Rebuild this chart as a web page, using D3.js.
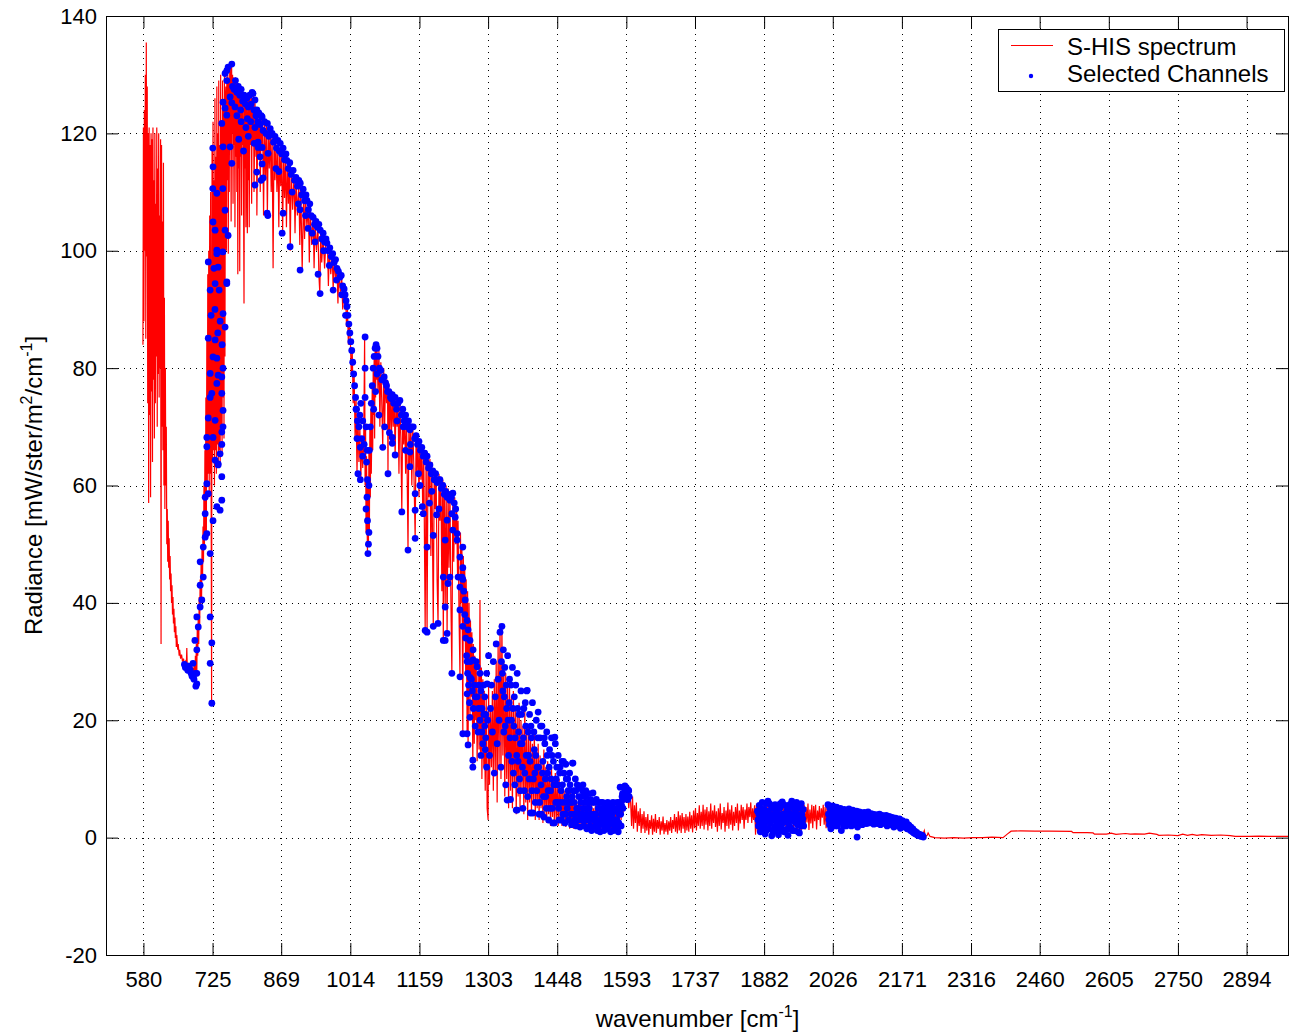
<!DOCTYPE html>
<html lang="en">
<head>
<meta charset="UTF-8">
<title>S-HIS spectrum</title>
<script src="https://d3js.org/d3.v7.min.js"></script>
<style>
  body { margin: 0; background: #fff; }
  svg { display: block; font-family: "Liberation Sans", Arial, Helvetica, sans-serif; }
</style>
</head>
<body>
<div id="chart"></div>
<script>
// tick labels as printed on the axes
var xTicks = [580, 725, 869, 1014, 1159, 1303, 1448, 1593, 1737, 1882, 2026, 2171, 2316, 2460, 2605, 2750, 2894];
var yTicks = [-20, 0, 20, 40, 60, 80, 100, 120, 140];

// S-HIS spectrum, [wavenumber cm-1, radiance]
var spectrumLongwave = [
  [579,84],[580,121],[581,88],[582,124],[583,100],[584,130],[585,85],[586,135.5],[587,99],[588,128],[589,74],[590,120],[591,57],[592,121],[593,72],[594,118],[595,58],[596,120],[597,76],[598,119],[599,64],[600,121],[601,78],[602,112],[603,68],[604,120],[605,74],[606,108],[607,82],[608,121],[609,70],[610,114],[611,79],[612,120],[613,75],[614,106],[615,80],[616,119],[617,33],[618,118],[619,70],[620,105],[621,66],[622,115],[623,60],[624,92],[625,56],[626,80],[627,60],[628,70],[629,50],
  [630,56],[631,47],[632,54],[633,46],[634,51],[635,44],[636,48],[637,42],[638,45],[639,40],[640,43],[641,38],[642,41],[643,36.5],[644,39],[645,35],[646,37.5],[647,34],[648,36],[649,32.5],[650,34.5],[652,32],[653,33],[655,31],[656,32],[658,30.5],[660,31.2],[662,30],[664,30.5],[666,29.6],[668,30],[670,29.2],[671,32.3],[672,29],[674,29.5],[676,28.8],[678,29.2],[680,28.6],[682,29],[684,28],
  [685,29],[686,27.5],[687,30],[688,26.5],[689,31],[690,27],[691,33],[692,28],[693,36],[694,31],[695,38],[696,33],[697,41],[698,36],[699,44],[700,39],[701,47],[702,41],[703,50],[704,44],[705,53],[706,47],[707,60],[708,50],[709,66],[710,52],[711,75],[712,51],[713,85],[714,60],[715,96],[716,62],[717,100],[718,58],[719,106],[720,62],[721,110],[722,60],[723,23],[724,118],[725,64],[726,122],[727,66],[728,112],[729,60],[730,126],[731,66],[732,116],[733,62],[734,128],[735,67],[736,120],[737,63],[738,129],[739,66],[740,118],[741,64],[742,130],[743,70],[744,122],[745,65],[746,129],[747,75],[748,124],[749,68],[750,130],[751,82],[752,126],
  [753,128],[754,100],[755,129.5],[756,112],[757,130],[758,99.5],[759,129],[760,110],[761,130.5],[762,118],[763,131],[764,105],[765,131.5],[766,120],[767,130],[768,108],[769,129.5],[770,118],[771,129],[772,104],[773,129.5],[774,116],[775,128.5],[776,110],[777,129],[778,96],[779,128.5],[780,114],[781,128],[782,96.5],[783,127.5],[784,116],[785,128],[786,106],[787,127.5],[788,118],[789,127],[790,110],[791,91],[792,126.5],[793,114],[794,127],[795,104],[796,126.5],[797,118],[798,103],[799,126],[800,112],[801,126.5],[802,104],[803,126],[804,118],[806,126.5],[807,108],[808,126],[810,118],[811,126.8],[812,110],[814,125.5],[816,116],[817,124.5],[818,106],[820,124],[822,116],[824,123.5],[825,110],[827,123],[829,117],[830,122.5],[832,106],[834,122],[836,112],[838,121.5],[840,106],[842,121],[844,114],[846,120.5],[848,110],[850,120],[852,97],[854,119.5],[856,112],[858,118.5],[860,110],[862,118],[864,104],[866,117.5],[868,111],[870,117],[872,103],[874,116.5],[876,109],[878,116],[880,104],[882,115.5],[884,108],[886,114.5],[888,100],[890,114],[893,107],[896,113],[898,103],[900,112.5],[903,106],[906,111.5],[908,101],[910,111],[913,96.7],[916,109.5],[918,102],[920,109],[923,104],[926,108],[928,98],[930,107],[933,101],[936,106],[938,97],[940,105],[943,100],[946,104.5],[948,96],[950,92.7],[952,103.5],[954,98],[957,102.5],[960,97],[963,102],[966,101],[968,94],[970,100],[973,96],[976,99.5],[978,93.3],[980,98.5],[983,95],[986,97.5],[988,91],[990,96.5],[993,93],[996,95.5],[998,90],[1000,94.5],[1002,90],[1004,93],[1006,87],[1008,90],[1010,84],[1012,87.5]
];
var spectrumOzone = [
  [1014,85],[1016,79],[1018,83],[1020,74],[1022,79],[1024,68],[1026,75],[1028,62],[1030,72],[1032,64],[1034,70],[1036,61],[1038,68],[1040,63],[1042,67],[1044,85.3],[1045,60],[1046,70],[1047,52],[1048,65],[1049,55],[1050,48.4],[1051,60],[1052,50],[1053,66],[1054,52],[1055,70],[1056,58],[1057,73],[1058,62],[1060,77],[1061,66],[1062,80],[1063,72],[1064,82],[1065,68],[1066,83.4],[1067,75],[1068,84],[1069,78],[1070,83.5],[1072,76],[1074,83],[1076,70],[1078,81],[1080,74],[1082,66.5],[1084,80],[1086,70],[1088,79],[1090,74],[1092,78],[1093,62],[1094,77.5],[1096,69],[1098,76.5],[1100,67]
];
var spectrumMidwave = [
  [1102,76],[1104,70],[1106,75.5],[1108,65],[1110,75],[1112,70],[1114,74.5],[1116,62],[1118,74.5],[1120,68],[1122,55.5],[1124,73],[1126,67],[1128,72.5],[1130,62],[1132,71.5],[1135,49],[1137,71],[1139,63],[1141,70.5],[1143,60],[1145,70],[1147,64],[1150,51],[1152,69],[1154,62],[1156,68],[1158,58],[1160,67.5],[1162,61],[1164,67],[1166,55],[1168,66.5],[1171,35.3],[1173,66],[1175,35],[1177,65],[1179,58],[1181,64.5],[1183,48],[1185,64],[1188,36],[1190,63],[1192,56],[1194,62.5],[1196,44],[1198,36.5],[1200,62],[1202,54],[1204,61.5],[1206,42],[1208,61],[1209,33.6],[1211,60.5],[1213,39.3],[1215,60],[1217,34.8],[1219,59.5],[1221,46],[1223,59],[1225,40],[1227,28],[1229,59],[1231,47],[1233,58],[1235,50],[1237,56],[1239,44],[1240,54],[1242,38],[1244,27.4],[1245,52],[1247,40],[1248,50],[1250,17.7],[1251,48],[1253,34],[1254,46],[1256,28],[1257,44],[1259,17.7],[1260,42],[1261,15.8],[1263,40],[1265,20.5],[1266,37],[1268,24],[1269,35],[1271,12],[1272,33],[1274,16],[1275,31],[1277,20],[1278,30],[1280,13],[1282,28],[1284,15],[1286,40.5],[1287,14],[1289,29],[1290,10],[1292,27],[1294,12],[1295,25],[1297,8],[1299,24],[1301,5],[1303,3],[1304,26],[1306,9],[1308,22],[1310,12],[1312,25],[1314,8],[1316,27],[1318,11],[1320,30],[1322,6],[1324,33],[1326,12],[1328,36.5],[1330,10],[1332,36],[1334,14],[1336,30],[1338,7],[1340,28],[1342,10],[1344,27],[1346,5],[1348,26],[1350,8],
  [1352,24],[1354,5],[1356,25],[1358,9],[1360,22],[1362,4],[1364,21],[1366,7],[1368,23],[1370,5],[1372,20],[1374,8],[1376,19],[1378,4],[1380,22],[1382,6],[1384,18],[1386,3],[1388,19],[1390,6],[1392,17],[1394,4],[1396,16],[1398,6],[1400,18],[1402,3],[1404,15],[1406,5],[1408,16],[1410,3],[1412,14],[1414,5],[1416,13],[1418,2.5],[1420,15],[1422,4],[1424,12],[1426,2.5],[1428,13],[1430,4],[1432,11],[1434,2],[1436,12],[1438,3.5],[1440,10],[1442,2],[1444,11],[1446,3],[1448,9],[1450,2],[1452,10],[1454,3],[1456,8.5],[1458,2],[1460,9],[1462,2.5],[1464,8],[1466,1.8],[1468,8.5],[1470,2.5],[1472,7.5],[1474,1.5],[1476,8],[1478,2],[1480,7],[1482,1.5],[1484,7.5],[1486,2],[1488,6.5],[1490,1.5],[1492,6],[1494,2],[1496,7],[1498,1.5],[1500,6],[1502,2],[1504,6.5],[1506,1.2],[1508,5.5],[1510,2],[1512,6],[1514,1.2],[1516,5.5],[1518,1.8],[1520,6.5],[1522,1.2],[1524,5],[1526,2],[1528,5.5],[1530,1],[1532,5],[1534,1.8],[1536,6],[1538,1],[1540,5],[1542,1.5],[1544,5.5],[1546,1],[1548,4.5],[1550,1.8],[1552,5],[1554,1.2],[1556,5.5],[1558,1.5],[1560,4.5],[1562,1.2],[1564,5],[1566,1.8],[1568,5.5],[1570,1.5],[1572,6],[1574,1.8],[1576,6.5],[1578,2],[1580,7.5],[1582,3],[1584,8],[1586,4],[1588,8.5],[1590,6],[1592,8.7],[1594,6.5],[1596,8.2],[1598,5],[1600,7.5]
];
var spectrumWater = [
  [1602,6],[1604,2],[1606,7],[1608,1.5],[1610,5.5],[1612,2.5],[1614,6],[1616,1],[1618,4.5],[1620,2],[1622,5],[1624,0.8],[1626,4],[1628,1.5],[1630,4.5],[1632,0.8],[1634,3.5],[1636,1.2],[1638,4],[1640,0.5],[1642,3],[1644,1.5],[1646,3.8],[1648,0.5],[1650,3.2],[1652,1],[1654,4],[1656,0.8],[1658,3],[1660,1.5],[1662,3.5],[1664,0.5],[1666,2.8],[1668,1.2],[1670,3.6],[1672,0.6],[1674,2.5],[1676,1],[1678,3],[1680,0.5],[1682,2.8],[1684,1.2],[1686,3.5],[1688,0.8],[1690,3],[1692,1.5],[1694,4],[1696,1],[1698,3.5],[1700,0.7],[1702,4.5],[1704,1.2],[1706,3.8],[1708,0.8],[1710,4.2],[1712,1.5],[1714,3.5],[1716,0.8],[1718,4],[1720,1.2],[1722,3.6],[1724,1],[1726,4.4],[1728,1.5],[1730,3.8],[1732,0.9],[1734,4.6],[1736,1.6],[1738,5],[1740,1.2],[1742,4.2],[1744,2],[1746,5.5],[1748,1.5],[1750,4.4],[1752,2],[1754,5.6],[1756,1.4],[1758,4.8],[1760,2.2],[1762,5.2],[1764,1.2],[1766,4.5],[1768,2],[1770,5.8],[1772,1.5],[1774,4.6],[1776,2.5],[1778,5.5],[1780,1.8],[1782,4.5],[1784,1],[1786,5],[1788,2],[1790,5.8],[1792,1.4],[1794,4.2],[1796,2.5],[1798,5.2],[1800,1],[1802,4.6],[1804,2],[1806,6],[1808,1.5],[1810,4.8],[1812,2.2],[1814,5.5],[1816,1.2],[1818,4.4],[1820,2],[1822,5.2],[1824,2.5],[1826,5.8],[1828,1.2],[1830,4.6],[1832,2.4],[1834,5.6],[1836,3],[1838,5.2],[1840,1.5],[1842,4.8],[1844,3],[1846,5.8],[1848,2.5],[1850,5.2],[1852,3.5],[1854,6],[1856,2.5],[1858,5],[1860,3],[1862,5.5],[1864,0.5],[1866,5.8],
  [1868,1],[1870,5],[1872,1.5],[1874,5.8],[1876,2],[1878,5],[1880,1],[1882,6],[1884,2.5],[1886,5.5],[1888,0.8],[1890,6.2],[1892,2],[1894,5],[1896,1.2],[1898,5.8],[1900,2.6],[1902,5.2],[1904,0.8],[1906,6],[1908,2.2],[1910,5.4],[1912,1],[1914,5.8],[1916,2.4],[1918,6],[1920,1.4],[1922,5.2],[1924,2],[1926,5.6],[1928,0.6],[1930,5],[1932,2.2],[1934,6],[1936,1.6],[1938,5.4],[1940,2.4],[1942,6.2],[1944,1],[1946,5],[1948,2],[1950,5.8],[1952,1.4],[1954,5.2],[1956,2.6],[1958,6],[1960,1.2],[1962,5.4],[1964,2],[1966,5.6],[1968,1.4],[1970,5.2],[1972,2.6],[1974,5.8],[1976,1.3],[1978,4.8],[1980,2.4],[1982,5.6],[1984,1.6],[1986,5.4],[1988,2.8],[1990,5.6],[1992,1.4],[1994,4.6],[1996,3],[1998,5.4],[2000,2],[2002,5],[2004,3.4],[2006,5.6],[2008,2.2],[2010,5.2],[2012,1.6],[2014,5.4],[2016,3],
  [2018,5],[2022,2],[2026,5.2],[2030,2.6],[2034,5],[2038,2.2],[2042,4.8],[2046,2.4],[2050,4.6],[2054,2.6],[2058,4.5],[2062,2.6],[2066,4.4],[2070,2.8],[2074,4.3],[2078,2.6],[2082,4.2],[2086,2.8],[2090,4],[2094,2.8],[2098,4],[2102,2.8],[2106,3.9],[2110,2.8],[2114,3.8],[2118,2.7],[2122,3.7],[2126,2.6],[2130,3.6],[2134,2.6],[2138,3.5],[2142,2.4],[2146,3.4],[2150,2.4],[2154,3.2],[2158,2.2],[2162,3],[2166,2],[2170,2.8],[2174,1.8],[2178,2.5],[2182,1.5],[2186,2],[2190,1.2],[2194,1.4],[2198,0.8],[2202,0.9],[2206,0.5],[2210,0.6],[2214,0.3],[2218,1.2],[2220,0.2],[2224,0.4]
];
var spectrumShortwave = [
  [2226,0.8],[2230,0.2],[2240,0],[2260,-0.1],[2280,0],[2300,-0.1],[2320,0],[2340,0],[2360,0.1],[2383,0],[2392,0.6],[2400,1.1],[2420,1.15],[2450,1.1],[2480,1.1],[2527,1.05],[2530,0.85],[2560,0.85],[2572,0.8],[2575,0.6],[2600,0.6],[2610,0.75],[2620,0.55],[2640,0.7],[2650,0.6],[2660,0.65],[2680,0.6],[2690,0.75],[2706,0.55],[2710,0.4],[2730,0.45],[2750,0.35],[2760,0.6],[2770,0.4],[2780,0.55],[2790,0.4],[2800,0.5],[2820,0.4],[2840,0.45],[2860,0.35],[2870,0.2],[2900,0.2],[2920,0.25],[2940,0.2],[2960,0.22],[2985,0.2]
];

// selected channels, [wavenumber cm-1, radiance]
var channelsLongwave = [
  [666,29.5],[668,29],[671,29.1],[673,28.5],[675,29.2],[678,28.6],[680,28],[682,27.5],[684,29.7],[686,27],[688,33.6],[689,28],[690,25.8],[692,32],[692,28],[692,26.2],[692,37.6],[695,35.9],[699,39.3],[702.5,40.5],[699,43],[705.5,44.4],[699,47],[705.5,49.5],[709.5,51.2],[713,51.8],[709.5,55.2],[709.5,58],[713,60.3],[716,58.6],[713,66.6],[713,68.2],[720,48.4],[726,54],[720,37.6],[723.5,33.2],[720,29.7],[723.5,22.9],[734,56.4],[740.8,55.8],[744.4,57.5],[736.7,63.5],[744.4,61.5],[740.8,65.4],[744.4,67],[747,70],[747,72.8],[744.4,75.7],[744.4,78.5],[747,80],[751.3,87],[754.9,94.7],[747,89.3],[734,81.7],[726,81.9],[730.4,84.8],[736.7,78.8],[720,79.1],[716,85.1],[723.5,75.7],[720,75],[734,77.4],[730.4,71.1],[716,71.5],[726,68.2],[744.4,69.1],[730.4,64.3],[736.7,63.7],[725.5,117.5],[726,114.3],[725.5,110.6],[726,104.9],[730.4,103.5],[734,109.8],[734,100.1],[744.4,121.7],[747,125.3],[751.3,130.2],[754.9,130.7],[757.6,131.3],[765.4,131.8],[754.9,129],[761.8,126.2],[765.4,125.2],[751.3,124.3],[754.9,123.1],[747,117.7],[746.5,110.6],[751.3,106.9],[751.3,103.5],[757.6,102.6],[761.8,117.7],[765.4,114.9],[746.5,99.8],[734,99.5],[736.7,97.2],[730.4,94.4],[716,98.1],[720,93.3],[738.8,93.3],[754.9,94.4],[730,90],[741,88],[736,86],[722,89],[745,84],[728,97]
];
var channelsWindow = [
  [767,128],[770,127.5],[773,129],[776,127],[779,128],[782,126.5],[785,127.5],[788,125.5],[791,126.5],[794,125],[797,126],[800,124.5],[803,126.5],[806,125],[808,127],[810,126.8],[812,124],[814,125.7],[816,123],[818,124],[820,122],[822,123.5],[825,121.5],[827,123],[829,122.8],[831,120.5],[834,122],[837,120],[840,121.7],[843,119.5],[846,120.8],[850,120],[853,118.5],[856,119.5],[859,117.5],[862,118.8],[865,117],[867,118.3],[870,116.5],[873,117.5],[876,115.5],[879,116.5],[881,115.4],[884,114],[887,115],[890,113],[894,113.7],[897,112],[900,112.5],[903,111],[906,112],[909,111.5],[912,109.5],[915,110.5],[918,108.5],[921,109.5],[923,108.6],[926,107],[929,108],[932,106],[936,105.7],[939,104.5],[942,105],[945,104],[948,104.5],[951,103.5],[954,102],[957,103],[960,101.5],[963,102],[965,101.3],[968,100],[971,100.5],[974,99],[977,99.5],[980,98],[983,98.5],[986,97],[989,96.5],[992,95.5],[995,95.8],[998,94],[1001,93.5],[1003,92.5],[1005,91.5],[1007,90.5],[1009,89],[1011,87.5],[1013,86],[1015,84.5],[1017,83],[1019,81],[1021,79],[1023,77],[1025,75],[1027,73],[1029,71],
  [814,121],[820.5,118.5],[829,117.6],[829,114.8],[831,112.4],[814,111.2],[841.5,116.6],[839.5,106.4],[873,106.4],[871,103],[887.7,100.7],[908.6,107],[925.4,103.8],[908.6,96.7],[946.4,96],[950.6,92.7],[978,93.3],[817.8,113.4],[826.8,112],[812.2,118.3],[820.6,117.6],[824.7,116],[840.9,106],[780,119],[785,122],[790,117],[795,121],[800,119.5],[805,122],[776,123],[772,124.5],[784,124],[798,122.5],[858,114],[864,113.5],[892,110],[905,108],[920,106],[934,103],[940,101.5],[958,100],[970,97.5],[985,95],[996,92.5],[1004,89]
];
var channelsOzone = [
  [1032,70],[1034,72],[1036,74],[1030,62],[1035,66.5],[1035,61],[1038,68],[1040,65],[1040,71],[1043,67],[1026,73],[1028,68],[1045,85.3],[1045,80],[1045,75],[1047,70],[1048,64],[1049,58],[1050,54],[1051,48.4],[1052,50],[1053,52],[1050,61],[1047,56],[1049,66],[1053,60],[1054,66],[1056,70],[1058,74],[1060,77],[1062,80],[1064,82],[1066,83.4],[1068,84],[1070,83.4],[1072,82],[1070,79],[1067,76],[1063,73],[1075,80],[1078,79.6],[1080,78],[1074,72],[1082,66.5],[1085,78.5],[1088,77.5],[1090,77],[1092,76],[1086,70],[1095,76],[1098,75],[1100,74.8],[1093,62],[1096,69]
];
var channelsMidwave = [
  [1102,75.5],[1105,74],[1108,75],[1111,73],[1114,74],[1118,74.5],[1121,72],[1124,73],[1127,71],[1130,72],[1133,70],[1136,71],[1139,69.5],[1142,70],[1146,70],[1149,68],[1152,68.5],[1155,67],[1158,67.5],[1161,66],[1164,66.5],[1167,65],[1170,65.5],[1173,64],[1175,65],[1178,63],[1181,63.5],[1184,62],[1187,62.5],[1190,61],[1193,62],[1196,60.5],[1199,61],[1202,61],[1205,59.5],[1208,60],[1211,58.5],[1214,59],[1217,58],[1220,58.5],[1223,57.5],[1226,58],[1229,58.7],[1232,57],[1235,56],
  [1102,68.2],[1102,67.2],[1108,65.2],[1122,55.5],[1135,49],[1139,65.7],[1139,63.2],[1150,55.8],[1150,58.6],[1150,51],[1165,56.4],[1167,55.2],[1175,35],[1175,49.5],[1188,51.5],[1188,36],[1198,36.5],[1213,50.7],[1217,54.1],[1213,33.6],[1229,52.4],[1227,55.2],[1234,54.6],[1238,50.7],[1223,44.4],[1219,43.3],[1240,44.4],[1227,28],[1244,27.4],[1171,35.3],[1209,33.6],[1217,34.8],[1213,39.3],[1209,44.4],[1160,60],[1180,57],[1195,55],[1140,67],[1125,70],[1112,71],[1130,66],[1157,62],[1185,59],[1200,56],
  [1238,51.8],[1250,49.5],[1244,47.8],[1250,46],[1248,44.4],[1244,42.7],[1255,40.5],[1259,37],[1261,35.4],[1265,33.6],[1271.5,32],[1271.5,30.3],[1280,29.1],[1286,28],[1301,26.2],[1250,44],[1244,38.8],[1250,36],[1259,30],[1265,27.3],[1259,24.5],[1259,17.7],[1261,15.8],[1271,13.2],[1271,12],[1280,24],[1265,20.5],[1250,17.7],[1276,19],[1283,22],[1290,18],[1294,21],[1288,25],[1297,15],
  [1252,42],[1254,38],[1256,34],[1258,31],[1260,28],[1262,26],[1264,23],[1266,30],[1268,27],[1270,25],[1272,22],[1274,26],[1276,24],[1278,30],[1282,18],[1284,26],[1286,20],[1288,14],[1290,22],[1292,16],[1294,26],[1296,19],[1298,21],[1300,12]
];
var channelsWater = [
  [1296,24],[1298,17],[1300,28],[1302,20],[1304,31],[1306,14],[1308,22],[1310,26],[1312,18],[1314,30],[1316,11],[1318,24],[1320,33],[1322,16],[1324,27],[1326,20],[1328,35],[1330,12],[1332,36],[1334,25],[1336,18],[1338,29],[1340,9],[1342,22],[1344,31],[1346,14],[1348,27],[1350,6.5],[1352,20],[1354,29],[1356,11],[1358,24],[1360,17],[1362,4.7],[1364,28],[1366,13],[1368,21],[1370,8],[1372,25],[1374,16],[1376,5],[1378,22],[1380,11],[1382,19],[1384,25],[1386,7],[1388,14],[1390,21],[1392,4.2],[1394,17],[1396,23],[1398,10],[1400,15],[1402,6],[1404,20],[1406,12],[1408,21.4],[1410,4],[1412,17],[1414,9],[1416,19],[1418,13],[1420,3.5],[1422,16],[1424,7],[1426,18],[1428,11],[1430,3],[1432,15],[1434,8],[1436,17],[1438,5],[1440,13],[1442,2.5],[1444,16],[1446,10],[1448,6],[1450,14],[1452,3],[1454,12],[1456,8],[1458,13],[1460,4],[1462,11],[1464,2.5],[1466,12.5],[1468,7],[1470,10],[1472,3],[1474,11],[1476,6],[1478,2.2],[1480,12.7],[1482,8],[1484,4],[1486,10],[1488,2],[1490,9],[1492,5],[1494,8.5],[1496,1.8],[1498,7],[1500,4],[1502,9],[1504,2],[1506,6],[1508,8],[1510,1.5],[1512,5],[1514,7.5],[1516,3],[1518,6.5],[1520,1.2],[1523,7.6],[1526,4],[1528,2],[1530,6.5],[1532,1.2],[1534,5],[1536,3],[1538,1],[1540,6],[1542,2.5],[1544,4.5],[1546,1.2],[1548,5.5],[1550,3],[1552,1.5],[1554,6],[1556,2],[1558,4],[1560,1],[1562,5.5],[1564,2.5],[1566,1.2],[1568,5],[1570,3],[1572,1.5],[1574,6],[1576,1],[1578,4],[1580,8.6],[1582,2],[1584,7],[1586,5],[1588,8.5],[1590,8.8],[1592,7.5],[1594,8.2],[1596,6.5],[1597,8.1],[1599,7],
  [1331,30],[1333,28],[1335,32],[1337,24],[1339,19],[1341,26],[1343,6.4],[1345,20],[1347,23],[1349,17],[1351,26],[1353,13],[1355,22],[1357,19],[1359,9],[1361,26],[1363,14],[1364,4.7],[1365,22],[1367,18],[1369,10],[1371,16],[1373,21],[1375,12],[1377,17],[1379,8],[1381,23],[1383,14],[1385,25.1],[1387,18],[1389,10],[1391,13],[1393,19],[1395,8],[1397,4.2],[1399,18],[1401,11],[1403,14],[1405,8],[1407,17],[1409,12],[1411,6],[1413,19],[1415,4],[1417,11],[1419,7],[1421,17],[1423,10],[1425,5],[1427,14],[1429,8],[1431,12],[1433,5],[1435,10],[1437,14],[1439,2.5],[1441,9],[1443,17.1],[1445,6],[1447,12],[1449,9],[1451,5],[1453,11],[1455,6],[1457,3],[1459,9],[1461,13],[1463,6],[1465,4],[1467,10],[1469,5],[1471,8],[1473,6],[1475,9],[1477,4],[1479,7],[1481,12.7],[1483,6],[1485,3],[1487,8],[1489,5],[1491,3],[1493,7],[1495,4],[1497,6],[1499,3],[1501,8],[1503,5],[1505,3],[1507,7],[1509,4],[1511,6],[1513,3],[1515,5],[1517,2],[1519,4],[1521,6],[1525,3],[1527,6],[1529,4],[1531,3],[1533,6],[1535,2],[1537,5],[1539,3],[1541,4],[1543,6],[1545,3],[1547,2],[1549,4],[1551,5],[1553,3],[1555,4],[1557,2.5],[1559,5],[1561,3],[1563,4],[1565,6],[1567,3],[1569,2],[1571,4.5],[1573,3],[1575,5],[1577,2.5],[1579,6],[1581,4],[1583,5.5],[1585,7.5],[1587,6.5],[1589,7.5],[1591,8],[1593,8.5],[1595,7],[1598,8]
];
var channelsShortwave = [
  [1868,4.5],[1870,2],[1872,5.5],[1874,1],[1876,3.5],[1878,6],[1880,2.5],[1882,4.8],[1884,0.6],[1886,5.8],[1888,3],[1890,6.2],[1892,1.5],[1894,4],[1896,5.5],[1898,0.3],[1900,3],[1902,5],[1904,1.8],[1906,4.2],[1908,2.5],[1910,5.2],[1912,0.5],[1914,3.5],[1916,5.8],[1918,2],[1920,6.1],[1922,4],[1924,1],[1926,5.5],[1928,2.8],[1930,4.6],[1932,0.4],[1934,3.2],[1936,5.6],[1938,1.6],[1940,6.2],[1942,3.8],[1944,5],[1946,1.2],[1948,4.4],[1950,6],[1952,2.2],[1954,5.4],[1956,0.8],[1958,3.6],[1960,5.8],[1962,2.6],[1964,4.8],
  [1869,3],[1871,4],[1873,2.5],[1875,5],[1877,1.5],[1879,4],[1881,3.5],[1883,2],[1885,3.8],[1887,1.2],[1889,4.5],[1891,3],[1893,5.8],[1895,2.4],[1897,3.5],[1899,5],[1901,1],[1903,3.8],[1905,5.6],[1907,1.4],[1909,3],[1911,4],[1913,2.2],[1915,5],[1917,3.6],[1919,1.2],[1921,3],[1923,5.6],[1925,2.6],[1927,4],[1929,1.4],[1931,3.4],[1933,5],[1935,2],[1937,4],[1939,3],[1941,1.2],[1943,5.6],[1945,3],[1947,2.6],[1949,5],[1951,3.8],[1953,1],[1955,3],[1957,5],[1959,2],[1961,4],[1963,3.2],[1965,2],
  [2016,5.6],[2018,3],[2020,5],[2022,1.5],[2024,4.2],[2026,5.4],[2028,2.5],[2030,4.8],[2032,3.4],[2034,5.2],[2036,2],[2038,4.5],[2040,3.5],[2042,5],[2044,1.2],[2046,4],[2048,2.8],[2050,4.8],[2052,3.6],[2054,2],[2056,4.6],[2058,3.2],[2060,4.9],[2062,2.4],[2064,4.2],[2066,3.5],[2068,4.7],[2070,2.6],[2072,4],[2074,3.3],[2076,4.5],[2077,0.1],[2078,1.8],[2080,3.8],[2082,4.4],[2084,3],[2086,4.2],[2088,2.2],[2090,3.6],[2092,4.3],[2094,2.8],[2096,4],[2098,3.4],[2100,4.4],[2102,2.5],[2104,3.7],[2106,4.1],[2108,3],[2110,4],[2112,2.3],[2114,3.5],[2116,3.9],[2118,2.8],[2120,3.8],[2122,3.2],[2124,4],[2126,2.2],[2128,3.4],[2130,3.8],[2132,2.6],[2134,3.6],[2136,3.1],[2138,3.8],[2140,2],[2142,3.3],[2144,3.6],[2146,2.4],[2148,3.5],[2150,3],[2152,3.4],[2154,1.8],[2156,3.1],[2158,3.3],[2160,2.4],[2162,3],[2164,2.6],[2166,3.2],[2168,1.6],[2170,2.8],[2172,2.9],[2174,2],[2176,2.6],[2178,2.3],[2180,2.7],[2182,1.5],[2184,2.2],[2186,2.1],[2188,1.4],[2190,1.8],[2192,1.2],[2194,1.5],[2196,0.8],[2198,1.1],[2200,0.6],[2202,0.9],[2204,0.4],[2206,0.6],[2208,0.3],[2210,0.5],[2212,0.2],[2214,0.4],[2216,0.1],
  [2017,4],[2019,2.2],[2021,3.6],[2023,5],[2025,2.8],[2027,3.6],[2029,4.4],[2031,2],[2033,4],[2035,3.2],[2037,4.8],[2039,2.6],[2041,4.2],[2043,3],[2045,4.6],[2047,3.8],[2049,2],[2051,4.2],[2053,3],[2055,4],[2057,2.6],[2059,3.8],[2061,4.4],[2063,3.2],[2065,2],[2067,3.8],[2069,4.2],[2071,3.4],[2073,2.2],[2075,3.9],[2079,3],[2081,4.2],[2083,2.4],[2085,3.6],[2087,4],[2089,3],[2091,2.4],[2093,3.6],[2095,4],[2097,2.4],[2099,3.6],[2101,3.8],[2103,3.2],[2105,2.6],[2107,3.6],[2109,3.4],[2111,3.8],[2113,2.8],[2115,3.2],[2117,3.6],[2119,2.4],[2121,3.4],[2123,3.6],[2125,3],[2127,2.8],[2129,3.2],[2131,3.4],[2133,3],[2135,2.4],[2137,3.4],[2139,3],[2141,2.6],[2143,3.2],[2145,2.8],[2147,3],[2149,2.2],[2151,3.2],[2153,2.6],[2155,2.4],[2157,2.8],[2159,2.8],[2161,2],[2163,2.6],[2165,2.4],[2167,2.8],[2169,2.2],[2171,2],[2173,2.5],[2175,2.3],[2177,1.8],[2179,2.1],[2181,2],[2183,1.8],[2185,1.6],[2187,1.5],[2189,1.2],[2191,1.4],[2193,1],[2195,1.1],[2197,0.9],[2199,0.7],[2201,0.8],[2203,0.6],[2205,0.4],[2207,0.5]
];

var spectrum = [].concat(spectrumLongwave, spectrumOzone, spectrumMidwave, spectrumWater, spectrumShortwave);
var channels = [].concat(channelsLongwave, channelsWindow, channelsOzone, channelsMidwave, channelsWater, channelsShortwave);

var W = 1289, H = 1034;
var axLeft = 106, axTop = 16, axRight = 1289, axBottom = 955;

var x = d3.scaleLinear().domain([501.5, 2983]).range([axLeft, axRight]);
var y = d3.scaleLinear().domain([-20, 140]).range([axBottom, axTop]);

var svg = d3.select("#chart").append("svg")
    .attr("width", W)
    .attr("height", H);

svg.append("defs").append("clipPath").attr("id", "plotclip")
    .append("rect")
    .attr("x", axLeft).attr("y", axTop)
    .attr("width", axRight - axLeft).attr("height", axBottom - axTop);

// dotted grid
var grid = svg.append("g").attr("stroke", "#000").attr("stroke-width", 1).attr("stroke-dasharray", "1,5")
    .attr("shape-rendering", "crispEdges");
grid.selectAll(".gx").data(xTicks).enter().append("line")
    .attr("x1", function (d) { return Math.round(x(d)) + 0.5; })
    .attr("x2", function (d) { return Math.round(x(d)) + 0.5; })
    .attr("y1", axTop).attr("y2", axBottom);
grid.selectAll(".gy").data(yTicks.slice(1, -1)).enter().append("line")
    .attr("y1", function (d) { return Math.round(y(d)) + 0.5; })
    .attr("y2", function (d) { return Math.round(y(d)) + 0.5; })
    .attr("x1", axLeft).attr("x2", axRight);

var plot = svg.append("g").attr("clip-path", "url(#plotclip)");

var line = d3.line()
    .x(function (d) { return x(d[0]); })
    .y(function (d) { return y(d[1]); });

plot.append("path")
    .datum(spectrum)
    .attr("fill", "none")
    .attr("stroke", "#ff0000")
    .attr("stroke-width", 1.2)
    .attr("stroke-linejoin", "miter")
    .attr("d", line);

plot.selectAll(".ch").data(channels).enter().append("circle")
    .attr("cx", function (d) { return x(d[0]); })
    .attr("cy", function (d) { return y(d[1]); })
    .attr("r", 3.4)
    .attr("fill", "#0000ff");

// axes, MATLAB style: ticks inside, box all round
var fmt = function (d) { return d; };
svg.append("g").attr("transform", "translate(0," + axBottom + ")")
    .call(d3.axisBottom(x).tickValues(xTicks).tickFormat(fmt).tickSizeInner(-12).tickSizeOuter(0).tickPadding(16));
svg.append("g").attr("transform", "translate(0," + axTop + ")")
    .call(d3.axisTop(x).tickValues(xTicks).tickFormat("").tickSizeInner(-12).tickSizeOuter(0));
svg.append("g").attr("transform", "translate(" + axLeft + ",0)")
    .call(d3.axisLeft(y).tickValues(yTicks).tickFormat(fmt).tickSizeInner(-12).tickSizeOuter(0).tickPadding(9));
svg.append("g").attr("transform", "translate(" + (axRight - 1) + ",0)")
    .call(d3.axisRight(y).tickValues(yTicks).tickFormat("").tickSizeInner(-12).tickSizeOuter(0));

svg.selectAll(".tick text")
    .attr("font-size", 22)
    .attr("font-family", "Liberation Sans, Arial, sans-serif")
    .attr("fill", "#000");
svg.selectAll(".domain, .tick line").attr("stroke", "#000");

// axis titles
var xl = svg.append("text")
    .attr("x", (axLeft + axRight) / 2)
    .attr("y", 1027)
    .attr("text-anchor", "middle")
    .attr("font-size", 24);
xl.append("tspan").text("wavenumber [cm");
xl.append("tspan").attr("font-size", 16).attr("dy", -10).text("-1");
xl.append("tspan").attr("dy", 10).text("]");

var yl = svg.append("text")
    .attr("transform", "translate(42," + ((axTop + axBottom) / 2) + ") rotate(-90)")
    .attr("text-anchor", "middle")
    .attr("font-size", 24);
yl.append("tspan").text("Radiance [mW/ster/m");
yl.append("tspan").attr("font-size", 16).attr("dy", -10).text("2");
yl.append("tspan").attr("dy", 10).text("/cm");
yl.append("tspan").attr("font-size", 16).attr("dy", -10).text("-1");
yl.append("tspan").attr("dy", 10).text("]");

// legend
var legend = svg.append("g");
legend.append("rect")
    .attr("x", 998.5).attr("y", 29.5)
    .attr("width", 286).attr("height", 62)
    .attr("fill", "#fff").attr("stroke", "#000");
legend.append("line")
    .attr("x1", 1011).attr("x2", 1053)
    .attr("y1", 45.5).attr("y2", 45.5)
    .attr("stroke", "#ff0000");
legend.append("text").attr("x", 1067).attr("y", 55).attr("font-size", 24).text("S-HIS spectrum");
legend.append("circle").attr("cx", 1031).attr("cy", 76).attr("r", 2.2).attr("fill", "#0000ff");
legend.append("text").attr("x", 1067).attr("y", 82).attr("font-size", 24).text("Selected Channels");
</script>
</body>
</html>
